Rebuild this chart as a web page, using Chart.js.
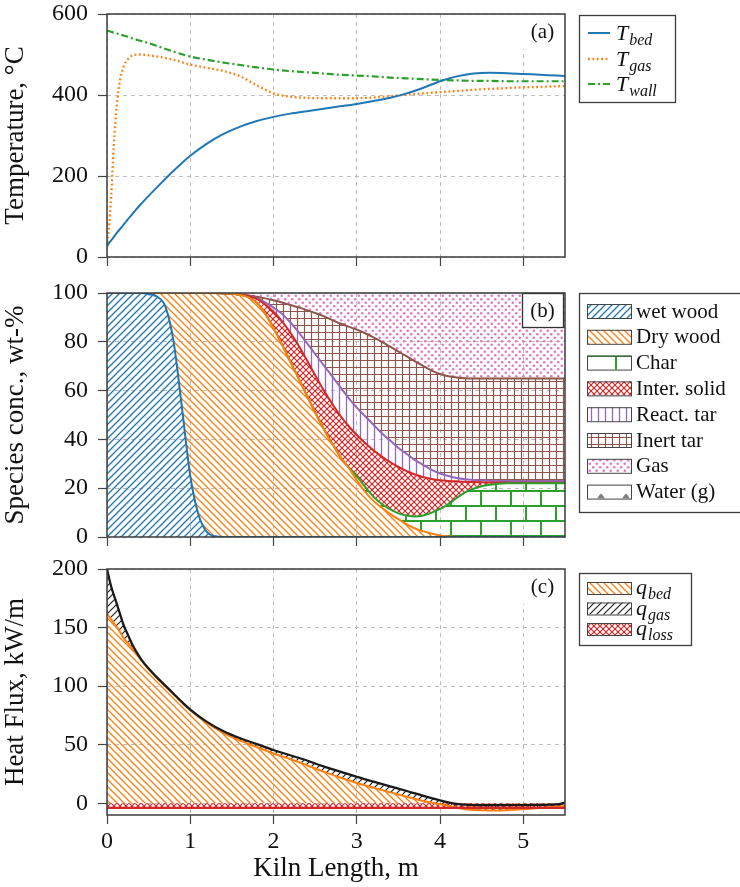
<!DOCTYPE html>
<html><head><meta charset="utf-8">
<script src="https://cdn.jsdelivr.net/npm/chart.js@4.4.1/dist/chart.umd.min.js"></script>
<style>
html,body{margin:0;padding:0;background:#fff;}
#wrap{position:relative;width:740px;height:887px;overflow:hidden;background:#fff}
canvas{position:absolute;left:0}
</style></head><body>
<div id="wrap">
<canvas id="cA" width="740" height="280" style="top:0;width:740px;height:280px"></canvas>
<canvas id="cB" width="740" height="280" style="top:280px;width:740px;height:280px"></canvas>
<canvas id="cC" width="740" height="327" style="top:560px;width:740px;height:327px"></canvas>
</div>
<script>
// ---------------- DATA ----------------
// Panel (a): temperatures, degC
const xA = [0,0.02,0.05,0.08,0.12,0.16,0.2,0.25,0.3,0.4,0.5,0.6,0.8,1.0,1.2,1.4,1.6,1.8,2.0,2.2,2.4,2.6,2.8,3.0,3.2,3.4,3.6,3.8,4.0,4.2,4.4,4.6,4.8,5.0,5.2,5.4,5.5];
const tBed  = [27,33,41,49,60,70,80,93,105,129,151,172,213,250,280,304,322,336,346,354,360,366,372,378,385,393,404,418,434,446,453,455,454,452,450,448,447];
const tGas  = [25,65,150,270,380,440,470,488,497,500,498,495,487,475,467,459,446,424,404,396,393,392,392,392,394,397,401,404,407,410,413,415,417,419,420,421.5,422];
const tWall = [559,558,556,554,552,549,547,544,540,534,528,521,507,495,487,480,474,468,463,459,456,453,450,448,446,443,441,439,437,436,435,435,434,434,434,434,434];
const ticksA = [0,200,400,600];

// Panel (b): species concentration, wt-%
const xB = [0,0.1,0.2,0.3,0.4,0.5,0.6,0.7,0.8,0.9,
            1.0,1.1,1.2,1.3,1.4,1.5,1.6,1.7,1.8,1.9,
            2.0,2.1,2.2,2.3,2.4,2.5,2.6,2.7,2.8,2.9,
            3.0,3.1,3.2,3.3,3.4,3.5,3.6,3.7,3.8,3.9,
            4.0,4.1,4.2,4.3,4.4,4.5,4.6,4.7,4.8,4.9,
            5.0,5.1,5.2,5.3,5.4,5.5];
const wetWood = [100,100,100,100,100,99.5,98.5,94.5,80,53,
                 25,9,2,0.3,0,0,0,0,0,0,
                 0,0,0,0,0,0,0,0,0,0,
                 0,0,0,0,0,0,0,0,0,0,
                 0,0,0,0,0,0,0,0,0,0,
                 0,0,0,0,0,0];
const dryWood = [0,0,0,0,0,0.5,1.5,5.5,20,47,
                 75,91,98,99.7,99.9,99.7,99.2,98.2,96.0,91.5,
                 85.5,79,72,65,58,51,44.5,38.5,33,28.5,
                 23.3,18.5,14.8,12,9.5,7.3,5.2,3.5,2.3,1.4,
                 0.6,0.2,0,0,0,0,0,0,0,0,
                 0,0,0,0,0,0];
const charS   = [0,0,0,0,0,0,0,0,0,0,
                 0,0,0,0,0,0,0,0,0,0,
                 0,0,0,0,0,0,0,0,0,0,
                 1.7,2.0,1.7,1.5,1.8,2.4,3.6,4.9,6.5,8.6,
                 10.9,13.3,16,18.3,19.8,20.8,21.4,21.8,22,22,
                 22,22,22,22,22,22];
const interSolid = [0,0,0,0,0,0,0,0,0,0,
                 0,0,0,0,0,0,0.1,0.6,1.6,3.8,
                 6.8,9.5,11.8,13.5,14.5,15.3,15.8,16.3,16.8,17.0,
                 16.8,18.0,19.0,19.5,19.4,19.0,18.2,17.2,15.7,13.8,
                 11.8,9.5,6.8,4.3,2.7,1.6,0.9,0.5,0.3,0.2,
                 0.2,0.2,0.2,0.2,0.2,0.2];
const reactTar = [0,0,0,0,0,0,0,0,0,0,
                 0,0,0,0,0,0,0.1,0.1,0.3,0.9,
                 1.7,3.0,4.2,5.5,7.0,8.7,10.2,11.2,11.7,11.5,
                 11.2,11.0,10.5,9.5,8.8,7.8,7.0,5.9,5.0,3.7,
                 2.7,2.0,1.4,1.1,0.9,0.8,0.8,0.7,0.7,0.8,
                 0.8,0.8,0.8,0.8,0.8,0.8];
const inertTar = [0,0,0,0,0,0,0,0,0,0,
                 0,0,0,0,0,0,0,0.1,0.6,1.6,
                 3.0,4.6,7.1,10.1,13.5,16.8,20.0,23.0,26.0,29.2,
                 32.0,34.0,35.8,37.5,38.5,39.5,40.0,40.5,40.5,40.7,
                 40.8,40.9,41.2,41.4,41.6,41.8,41.9,42,42,42,
                 42,42,42,42,42,42];
const gasS    = [0,0,0,0,0,0,0,0,0,0,
                 0,0,0,0,0.1,0.3,0.6,1.0,1.5,2.2,
                 3.0,3.9,4.9,5.9,7.0,8.2,9.5,11.0,12.5,13.8,
                 15.0,16.5,18.2,20.0,22.0,24.0,26.0,28.0,30.0,31.8,
                 33.2,34.1,34.6,34.9,35,35,35,35,35,35,
                 35,35,35,35,35,35];
const waterG  = [0,0,0,0,0,0,0,0,0,0,
                 0,0,0,0,0,0,0,0,0,0,
                 0,0,0,0,0,0,0,0,0,0,
                 0,0,0,0,0,0,0,0,0,0,
                 0,0,0,0,0,0,0,0,0,0,
                 0,0,0,0,0,0];
const ticksB = [0,20,40,60,80,100];

// Panel (c): heat flux, kW/m
const xC   = [0,0.05,0.1,0.15,0.2,0.25,0.3,0.4,0.5,0.6,0.7,0.8,0.9,1.0,1.2,1.4,1.6,1.8,2.0,2.2,2.4,2.6,2.8,3.0,3.2,3.4,3.6,3.8,4.0,4.1,4.2,4.3,4.4,4.6,4.8,5.0,5.2,5.4,5.5];
const qBed = [162,157,152,147,141,137,132.5,123,114.5,107,100,93,86,79.5,68.5,60,53.5,48,42.5,37.8,32.5,27,22,17.3,13.2,9.3,5.6,2.0,-0.8,-2.2,-3.8,-5.0,-5.8,-6.2,-6.0,-5.2,-4.0,-3.0,-2.5];
const qGas = [38,28,22,16,11,7,3.5,1,0.5,0.5,0.5,0.5,0.5,0.5,1.0,1.5,2.0,2.5,3.0,3.2,4.0,4.5,5.0,5.2,5.3,5.2,4.9,4.3,3.3,3.0,3.3,3.8,4.3,4.6,4.4,3.7,2.7,2.0,3.0];
const qLoss = [-4,-4,-4,-4,-4,-4,-4,-4,-4,-4,-4,-4,-4,-4,-4,-4,-4,-4,-4,-4,-4,-4,-4,-4,-4,-4,-4,-4,-4,-4,-4,-4,-4,-4,-4,-4,-4,-4,-4];
const ticksC = [0,50,100,150,200];
const ticksX = [0,1,2,3,4,5];

// ---------------- STYLE ----------------
const FONT = '"Liberation Serif","Times New Roman",serif';
const COL = {blue:'#1f77b4', orange:'#ff7f0e', green:'#2ca02c', red:'#d62728', purple:'#9467bd', brown:'#8c564b', pink:'#e377c2', gray:'#7f7f7f', black:'#1a1a1a'};
Chart.defaults.font.family = FONT;
Chart.defaults.color = '#111';

const xy = (xs, ys) => xs.map((x, i) => ({x: x, y: ys[i]}));

function tile(ctx, w, h, fn){
  const c = document.createElement('canvas'); c.width = w; c.height = h;
  const g = c.getContext('2d'); fn(g, w, h);
  return ctx.createPattern(c, 'repeat');
}
function lnNE(g,s){ g.beginPath(); g.moveTo(0,s); g.lineTo(s,0); g.moveTo(-s/2,s/2); g.lineTo(s/2,-s/2); g.moveTo(s/2,s*1.5); g.lineTo(s*1.5,s/2); g.stroke(); }
function lnNW(g,s){ g.beginPath(); g.moveTo(0,0); g.lineTo(s,s); g.moveTo(s/2,-s/2); g.lineTo(s*1.5,s/2); g.moveTo(-s/2,s/2); g.lineTo(s/2,s*1.5); g.stroke(); }
function patterns(ctx){
  return {
    ne: (c,s,lw)=>tile(ctx,s,s,g=>{g.strokeStyle=c;g.lineWidth=lw;lnNE(g,s);}),
    nw: (c,s,lw)=>tile(ctx,s,s,g=>{g.strokeStyle=c;g.lineWidth=lw;lnNW(g,s);}),
    cross: (c,s,lw)=>tile(ctx,s,s,g=>{g.strokeStyle=c;g.lineWidth=lw;lnNE(g,s);lnNW(g,s);}),
    vert: (c,s,lw)=>tile(ctx,s,s,g=>{g.strokeStyle=c;g.lineWidth=lw;g.beginPath();g.moveTo(s/2,0);g.lineTo(s/2,s);g.stroke();}),
    grid: (c,s,lw)=>tile(ctx,s,s,g=>{g.strokeStyle=c;g.lineWidth=lw;g.beginPath();g.moveTo(s/2,0);g.lineTo(s/2,s);g.moveTo(0,s/2);g.lineTo(s,s/2);g.stroke();}),
    dots: (c)=>tile(ctx,7,7,g=>{g.fillStyle=c;g.beginPath();g.arc(1.75,1.75,1.3,0,7);g.fill();g.beginPath();g.arc(5.25,5.25,1.3,0,7);g.fill();}),
    bricks: (c)=>tile(ctx,30,30,g=>{g.strokeStyle=c;g.lineWidth=2;g.beginPath();
      g.moveTo(0,1);g.lineTo(30,1);g.moveTo(0,16);g.lineTo(30,16);
      g.moveTo(1,1);g.lineTo(1,16);g.moveTo(16,16);g.lineTo(16,31);g.stroke();})
  };
}

function xScale(showLabels, h){
  return {
    type:'linear', min:0, max:5.5,
    afterBuildTicks: s => { s.ticks = ticksX.map(v => ({value:v})); },
    ticks:{display:showLabels, font:{size:24}, color:'#111', padding:3, maxRotation:0, autoSkip:false},
    grid:{color:'#bdbdbd', lineWidth:1, drawTicks:true, tickLength:9, tickColor:'#444', tickWidth:1.2, tickBorderDash:[]},
    border:{display:false, dash:[4,4]},
    title: showLabels ? {display:true, text:'Kiln Length, m', font:{size:27}, color:'#111', padding:{top:0,bottom:2}} : {display:false},
    afterFit: s => { s.height = h; s.paddingLeft = 0; s.paddingRight = 0; }
  };
}
function yScale(min, max, tickVals, title, stacked){
  return {
    type:'linear', min:min, max:max, stacked: stacked || false,
    afterBuildTicks: s => { s.ticks = tickVals.map(v => ({value:v})); },
    ticks:{font:{size:24}, color:'#111', padding:10},
    grid:{color:'#bdbdbd', lineWidth:1, drawTicks:true, tickLength:9, tickColor:'#444', tickWidth:1.2, tickBorderDash:[]},
    border:{display:false, dash:[4,4]},
    title:{display:true, text:title, font:{size:27}, color:'#111', padding:{top:0,bottom:0}},
    afterFit: s => { s.width = 107; s.paddingTop = 0; s.paddingBottom = 0; }
  };
}

function frame(ctx, a){
  ctx.save(); ctx.strokeStyle = '#3c3c3c'; ctx.lineWidth = 1.5;
  ctx.strokeRect(a.left, a.top, a.right - a.left, a.bottom - a.top); ctx.restore();
}
function panelLabel(ctx, a, txt, border){
  const w = 41, h = 34, x = a.right - 43, y = a.top;
  ctx.save(); ctx.fillStyle = '#fff'; ctx.fillRect(x, y + 1, w, h);
  if (border){ ctx.strokeStyle = '#333'; ctx.lineWidth = 1.3; ctx.strokeRect(x + 0.5, y + 0.5, w, h); }
  ctx.fillStyle = '#111'; ctx.font = '21px ' + FONT; ctx.textAlign = 'center'; ctx.textBaseline = 'middle';
  ctx.fillText(txt, x + w/2, y + h/2 + 1); ctx.restore();
}
function legendBox(ctx, x, y, w, h){
  ctx.save(); ctx.fillStyle = '#fff'; ctx.fillRect(x, y, w, h);
  ctx.strokeStyle = '#3c3c3c'; ctx.lineWidth = 1.3; ctx.strokeRect(x + 0.5, y + 0.5, w, h); ctx.restore();
}
function subText(ctx, x, yc, main, sub, size){
  ctx.save(); ctx.fillStyle = '#111'; ctx.textBaseline = 'alphabetic'; ctx.textAlign = 'left';
  ctx.font = 'italic ' + size + 'px ' + FONT; ctx.fillText(main, x, yc + size*0.33);
  const w = ctx.measureText(main).width;
  ctx.font = 'italic ' + Math.round(size*0.72) + 'px ' + FONT; ctx.fillText(sub, x + w + 1, yc + size*0.55);
  ctx.restore();
}
function swatch(ctx, x, yc, w, h, fill){
  ctx.save(); ctx.fillStyle = '#fff'; ctx.fillRect(x, yc - h/2, w, h);
  if (fill){ ctx.fillStyle = fill; ctx.fillRect(x, yc - h/2, w, h); }
  ctx.strokeStyle = '#444'; ctx.lineWidth = 1; ctx.strokeRect(x + 0.5, yc - h/2 + 0.5, w, h); ctx.restore();
}

// ---------------- PANEL A ----------------
const ctxA = document.getElementById('cA').getContext('2d');
new Chart(ctxA, {
  type:'line',
  data:{datasets:[
    {label:'T_bed', data:xy(xA,tBed), borderColor:COL.blue, borderWidth:2, pointRadius:0, cubicInterpolationMode:'monotone'},
    {label:'T_gas', data:xy(xA,tGas), borderColor:COL.orange, borderWidth:2.3, borderDash:[1.8,2.6], pointRadius:0, cubicInterpolationMode:'monotone'},
    {label:'T_wall', data:xy(xA,tWall), borderColor:COL.green, borderWidth:2.2, borderDash:[7,3,2,3], pointRadius:0, cubicInterpolationMode:'monotone'}
  ]},
  options:{
    responsive:false, animation:false, devicePixelRatio:1,
    layout:{padding:{left:0, right:175, top:14, bottom:0}},
    plugins:{legend:{display:false}, tooltip:{enabled:false}},
    scales:{x:xScale(false, 23), y:yScale(0, 600, ticksA, 'Temperature, °C')}
  },
  plugins:[{id:'decoA', afterDraw(ch){
    const c = ch.ctx, a = ch.chartArea;
    frame(c, a); panelLabel(c, a, '(a)', false);
    legendBox(c, 579, 15, 96, 87);
    const rows = [[33,COL.blue,[],2,'bed'],[59,COL.orange,[1.8,2.6],2.3,'gas'],[84,COL.green,[7,3,2,3],2.2,'wall']];
    rows.forEach(r => {
      c.save(); c.strokeStyle = r[1]; c.lineWidth = r[3]; c.setLineDash(r[2]);
      c.beginPath(); c.moveTo(588, r[0]); c.lineTo(610, r[0]); c.stroke(); c.restore();
      subText(c, 616, r[0], 'T', r[4], 22);
    });
  }}]
});

// ---------------- PANEL B ----------------
const ctxB = document.getElementById('cB').getContext('2d');
const PB = patterns(ctxB);
const fillsB = {
  wet: PB.ne(COL.blue, 7, 1.3), dry: PB.nw(COL.orange, 7, 1.3), chr: PB.bricks(COL.green),
  inter: PB.cross(COL.red, 6, 1.2), react: PB.vert(COL.purple, 7, 1.3), inert: PB.grid(COL.brown, 7, 1.2),
  gas: PB.dots(COL.pink)
};
const dsB = (label, ys, color, fill, f) => ({label:label, data:xy(xB, ys), borderColor:color, borderWidth:2,
  backgroundColor:fill, fill:f, pointRadius:0, cubicInterpolationMode:'monotone'});
new Chart(ctxB, {
  type:'line',
  data:{datasets:[
    dsB('wet wood', wetWood, COL.blue, fillsB.wet, 'origin'),
    dsB('Dry wood', dryWood, COL.orange, fillsB.dry, '-1'),
    dsB('Char', charS, COL.green, fillsB.chr, '-1'),
    dsB('Inter. solid', interSolid, COL.red, fillsB.inter, '-1'),
    dsB('React. tar', reactTar, COL.purple, fillsB.react, '-1'),
    dsB('Inert tar', inertTar, COL.brown, fillsB.inert, '-1'),
    Object.assign(dsB('Gas', gasS, 'rgba(0,0,0,0)', fillsB.gas, '-1'), {borderWidth:0}),
    Object.assign(dsB('Water (g)', waterG, 'rgba(0,0,0,0)', 'rgba(0,0,0,0)', false), {borderWidth:0})
  ]},
  options:{
    responsive:false, animation:false, devicePixelRatio:1,
    layout:{padding:{left:0, right:175, top:13, bottom:0}},
    plugins:{legend:{display:false}, tooltip:{enabled:false}, filler:{drawTime:'beforeDatasetsDraw'}},
    scales:{x:xScale(false, 23), y:yScale(0, 100, ticksB, 'Species conc., wt-%', true)}
  },
  plugins:[{id:'decoB', afterDraw(ch){
    const c = ch.ctx, a = ch.chartArea;
    frame(c, a); panelLabel(c, a, '(b)', true);
    legendBox(c, 579, 13, 170, 219);
    const items = [['wet wood',fillsB.wet],['Dry wood',fillsB.dry],['Char',fillsB.chr],['Inter. solid',fillsB.inter],
                   ['React. tar',fillsB.react],['Inert tar',fillsB.inert],['Gas',fillsB.gas],['Water (g)',null]];
    items.forEach((it, i) => {
      const yc = 31 + i*25.8;
      swatch(c, 587, yc, 44, 14, it[1]);
      if (!it[1]){
        c.save(); c.fillStyle = COL.gray;
        [601, 626].forEach(bx => { c.beginPath(); c.moveTo(bx-4, yc+7); c.lineTo(bx-1.5, yc+3.5); c.lineTo(bx, yc+2); c.lineTo(bx+1.5, yc+3.5); c.lineTo(bx+4, yc+7); c.closePath(); c.fill(); });
        c.restore();
      }
      c.save(); c.fillStyle = '#111'; c.font = '21px ' + FONT; c.textBaseline = 'middle';
      c.fillText(it[0], 636, yc + 1); c.restore();
    });
  }}]
});

// ---------------- PANEL C ----------------
const ctxC = document.getElementById('cC').getContext('2d');
const PC = patterns(ctxC);
const fillsC = {bed: PC.nw(COL.orange, 7, 1.3), gas: PC.ne('#222', 7, 1.2), loss: PC.cross(COL.red, 6, 1.2)};
const qTop = qBed.map((v, i) => v + qGas[i]);   // upper edge of stacked q_gas band
new Chart(ctxC, {
  type:'line',
  data:{datasets:[
    {label:'q_loss', data:xy(xC,qLoss), borderColor:COL.red, borderWidth:2.2, backgroundColor:fillsC.loss, fill:'origin', pointRadius:0},
    {label:'q_gas', data:xy(xC,qTop), borderColor:COL.black, borderWidth:2.3, backgroundColor:fillsC.gas, fill:2, pointRadius:0, cubicInterpolationMode:'monotone'},
    {label:'q_bed', data:xy(xC,qBed), borderColor:COL.orange, borderWidth:2, backgroundColor:fillsC.bed, fill:'origin', pointRadius:0, cubicInterpolationMode:'monotone'}
  ]},
  options:{
    responsive:false, animation:false, devicePixelRatio:1,
    layout:{padding:{left:0, right:175, top:9, bottom:0}},
    plugins:{legend:{display:false}, tooltip:{enabled:false}, filler:{drawTime:'beforeDatasetsDraw'}},
    scales:{x:xScale(true, 72), y:yScale(-10, 200, ticksC, 'Heat Flux, kW/m')}
  },
  plugins:[{id:'decoC', afterDraw(ch){
    const c = ch.ctx, a = ch.chartArea;
    frame(c, a); panelLabel(c, a, '(c)', false);
    legendBox(c, 579, 13, 112, 72);
    const items = [['bed',fillsC.bed],['gas',fillsC.gas],['loss',fillsC.loss]];
    items.forEach((it, i) => {
      const yc = 28 + i*20.5;
      swatch(c, 587, yc, 44, 12, it[1]);
      subText(c, 636, yc - 1, 'q', it[0], 22);
    });
  }}]
});
</script>
</body></html>
